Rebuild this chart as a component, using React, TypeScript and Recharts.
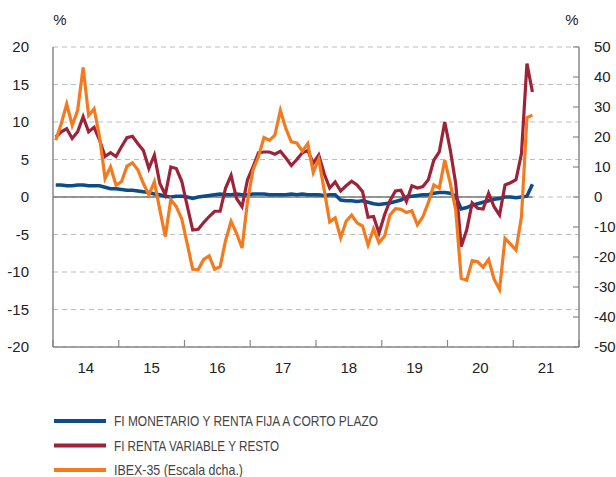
import { LineChart, Line, XAxis, YAxis, CartesianGrid, ReferenceLine } from "recharts";

const yearLabels = ["14", "15", "16", "17", "18", "19", "20", "21"];

// monthly values, Jan 2014 .. Apr 2021
const monetario = [
  1.6, 1.6, 1.5, 1.5, 1.6, 1.6, 1.5, 1.5, 1.5, 1.3,
  1.1, 1.1, 1.0, 0.9, 0.9, 0.8, 0.7, 0.6, 0.4, 0.3,
  0.1, 0.0, 0.1, 0.1, 0.0, -0.2, 0.0, 0.1, 0.2, 0.3,
  0.4, 0.3, 0.3, 0.4, 0.3, 0.3, 0.4, 0.4, 0.4, 0.3,
  0.3, 0.3, 0.3, 0.4, 0.3, 0.4, 0.3, 0.3, 0.3, 0.2,
  0.3, 0.3, -0.4, -0.5, -0.5, -0.6, -0.5, -0.7, -0.9, -1.0,
  -0.9, -0.8, -0.6, -0.4, 0.0, 0.1, 0.2, 0.3, 0.3, 0.5,
  0.6, 0.6, 0.5, 0.1, -1.6, -1.4, -1.1, -0.9, -0.7, -0.5,
  -0.3, -0.2, 0.0, 0.0, -0.1, 0.0, 0.1, 1.7,
];

const rentaVariable = [
  8.0, 8.7, 9.1, 7.8, 8.7, 10.7, 8.7, 9.3, 7.6, 5.4,
  5.9, 5.4, 6.7, 7.9, 8.1, 7.1, 6.2, 3.8, 5.6, 1.8,
  0.3, 4.0, 3.8, 2.1, -1.2, -4.4, -4.3, -3.4, -2.6, -1.9,
  -1.9, 1.2, 2.9, -0.2, -1.3, 2.3, 4.0, 5.9, 6.0, 6.0,
  5.7, 6.1, 5.2, 4.2, 5.0, 5.9, 6.2, 4.5, 5.6, 3.1,
  1.2, 2.0, 0.8, 1.5, 2.1, 1.6, 0.7, -2.7, -2.6, -4.8,
  -2.4, -0.5, 0.8, 0.9, -0.6, 1.5, 1.2, 1.4, 2.3, 4.9,
  6.0, 10.0, 6.3, 1.8, -6.6, -4.4, -0.8, -1.5, -1.6, 0.5,
  -1.3, -2.4, 1.6, 1.9, 2.3, 5.8, 17.8, 14.0,
];

const ibex = [
  18.9, 24.4, 31.0, 23.9, 28.9, 43.2, 27.2, 29.4, 20.0, 6.2,
  10.0, 4.0, 5.1, 10.3, 11.4, 9.0, 4.5, 0.7, 5.1, -4.3,
  -13.2, -0.9, -3.2, -7.3, -15.6, -24.1, -24.2, -20.8, -19.6, -24.1,
  -23.2, -14.5, -8.1, -12.1, -17.0, -1.5, 9.0, 13.4, 19.8, 18.9,
  20.6, 28.9, 22.8, 18.4, 18.0, 15.3, 17.8, 8.2, 12.6, 2.3,
  -8.3, -7.0, -13.6, -8.1, -6.0, -8.6, -9.7, -16.0, -10.6, -15.2,
  -13.1, -6.0, -3.9, -4.1, -5.2, -4.6, -9.3, -6.6, -1.9, 4.0,
  2.9, 12.3, 4.6, -4.3, -27.1, -27.7, -21.2, -21.6, -23.4, -20.8,
  -27.4, -30.8, -13.8, -15.7, -17.7, -6.6, 26.5, 27.3,
];

const leftTicks = [-20, -15, -10, -5, 0, 5, 10, 15, 20];
const rightTicks = [-50, -40, -30, -20, -10, 0, 10, 20, 30, 40, 50];
const monthTicks = [0, 12, 24, 36, 48, 60, 72, 84, 96];

const data = monetario.map((v, i) => ({
  x: i + 0.5,
  monetario: v,
  rentaVariable: rentaVariable[i],
  ibex: ibex[i],
}));

const BLUE = "#0c4c88";
const RED = "#9e2339";
const ORANGE = "#f47a20";
const FONT = "'Liberation Sans', Arial, sans-serif";

const legendItems = [
  { label: "FI MONETARIO Y RENTA FIJA A CORTO PLAZO", color: BLUE, width: 264 },
  { label: "FI RENTA VARIABLE Y RESTO", color: RED, width: 165 },
  { label: "IBEX-35 (Escala dcha.)", color: ORANGE, width: 129 },
];

const YearTick = (props: any) => {
  const { x, y, payload } = props;
  const idx = monthTicks.indexOf(payload.value);
  const step = 526 / 8;
  return (
    <g>
      <line x1={x} y1={y} x2={x} y2={y - 7} stroke="#888" strokeWidth={1.2} />
      {idx >= 0 && idx < yearLabels.length && (
        <text x={x + step / 2} y={y + 26} textAnchor="middle" fontSize={15} fill="#222" fontFamily={FONT}>
          {yearLabels[idx]}
        </text>
      )}
    </g>
  );
};

const RightTick = (props: any) => {
  const { x, y, payload } = props;
  return (
    <g>
      <line x1={x} y1={y} x2={x - 6} y2={y} stroke="#888" strokeWidth={1.2} />
      <text x={x + 15} y={y + 5} textAnchor="start" fontSize={15} fill="#222" fontFamily={FONT}>
        {payload.value}
      </text>
    </g>
  );
};

export default function App() {
  return (
    <div style={{ position: "absolute", left: 0, top: 0, width: 616, height: 477, background: "#fff" }}>
      <LineChart width={616} height={477} data={data} margin={{ top: 47, right: 0, left: 0, bottom: 100 }}>
        <CartesianGrid yAxisId="left" vertical={false} stroke="#bdbdbd" strokeDasharray="5 4" strokeWidth={1.2} />
        <XAxis
          dataKey="x"
          type="number"
          domain={[0, 96]}
          ticks={monthTicks}
          interval={0}
          height={30}
          stroke="#888"
          strokeWidth={1.5}
          tickSize={0}
          tickMargin={0}
          tick={<YearTick />}
        />
        <YAxis
          yAxisId="left"
          domain={[-20, 20]}
          ticks={leftTicks}
          interval={0}
          width={53}
          stroke="#888"
          strokeWidth={1.5}
          tickLine={false}
          tickMargin={18}
          tick={{ fontSize: 15, fill: "#222", fontFamily: FONT }}
        />
        <YAxis
          yAxisId="right"
          orientation="right"
          domain={[-50, 50]}
          ticks={rightTicks}
          interval={0}
          width={37}
          stroke="#888"
          strokeWidth={1.5}
          tickSize={0}
          tickMargin={0}
          tick={<RightTick />}
        />
        <ReferenceLine
          yAxisId="left"
          segment={[{ x: 0, y: 0 }, { x: 87.5, y: 0 }]}
          stroke="#777"
          strokeWidth={1.3}
        />
        <Line yAxisId="left" dataKey="monetario" stroke={BLUE} strokeWidth={3.5} dot={false} isAnimationActive={false} />
        <Line yAxisId="left" dataKey="rentaVariable" stroke={RED} strokeWidth={3.2} dot={false} isAnimationActive={false} />
        <Line yAxisId="right" dataKey="ibex" stroke={ORANGE} strokeWidth={3.2} dot={false} isAnimationActive={false} />
      </LineChart>
      <svg width={616} height={477} style={{ position: "absolute", left: 0, top: 0, pointerEvents: "none" }}>
        <text x={60} y={25} textAnchor="middle" fontSize={15} fill="#222" fontFamily={FONT}>%</text>
        <text x={572} y={25} textAnchor="middle" fontSize={15} fill="#222" fontFamily={FONT}>%</text>
        {legendItems.map((item, i) => (
          <g key={item.label}>
            <line x1={54} y1={421 + i * 24.5} x2={106} y2={421 + i * 24.5} stroke={item.color} strokeWidth={4} />
            <text
              x={114}
              y={426 + i * 24.5}
              fontSize={15}
              fill="#444"
              fontFamily="'Liberation Sans Narrow', 'Liberation Sans', Arial, sans-serif"
              textLength={item.width}
              lengthAdjust="spacingAndGlyphs"
            >
              {item.label}
            </text>
          </g>
        ))}
      </svg>
    </div>
  );
}
